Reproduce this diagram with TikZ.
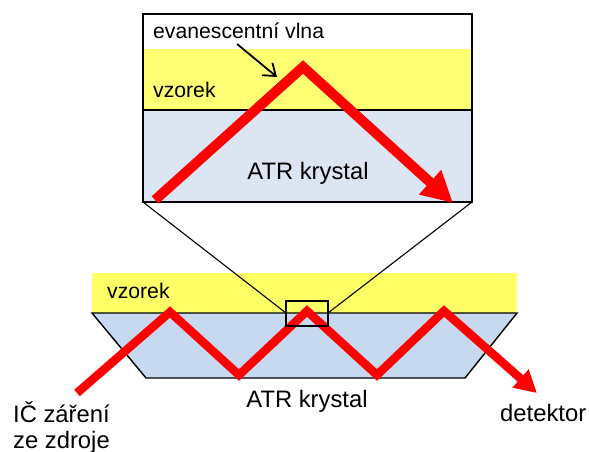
\documentclass[tikz,border=0pt]{standalone}
\usepackage{fontspec}
\setmainfont{Liberation Sans}
\usetikzlibrary{arrows.meta}
\definecolor{ylwtop}{HTML}{FFFF73}
\definecolor{ylwbot}{HTML}{FFFF66}
\definecolor{bluetop}{HTML}{DCE6F2}
\definecolor{bluebot}{HTML}{C6D9F1}
\definecolor{beamred}{HTML}{FF0000}
\begin{document}
\begin{tikzpicture}[x=1pt,y=-1pt,
  frame/.style={draw=black,line width=1.4pt},
  thinline/.style={draw=black,line width=1.1pt},
  beamtop/.style={draw=beamred,line width=10pt,line join=miter,-{Triangle[length=31pt,width=31pt]}},
  beambot/.style={draw=beamred,line width=8.5pt,line join=miter,-{Triangle[length=22pt,width=23pt]}},
  pointer/.style={draw=black,line width=1.8pt,-{Straight Barb[length=11pt,width=16pt,line width=1.8pt]}},
  bigtxt/.style={inner sep=0pt,font=\fontsize{23.8}{28}\selectfont},
  smalltxt/.style={inner sep=0pt,font=\fontsize{21.2}{25}\selectfont}
]
\useasboundingbox (0,0) rectangle (589,452);
% ---- magnified view ----
\coordinate (TL) at (143,14);
\coordinate (TR) at (472,14);
\coordinate (BL) at (143,202);
\coordinate (BR) at (472,202);
\coordinate (ML) at (143,110);
\coordinate (MR) at (472,110);
\fill[white] (143,14) rectangle (472,49);
\fill[ylwtop] (143,49) rectangle (472,110);
\fill[bluetop] (143,110) rectangle (472,202);
\draw[frame] (TL) -- (TR) -- (BR) -- (BL) -- cycle;
\draw[frame] (ML) -- (MR);
% ---- lower crystal ----
\fill[ylwbot] (92,273) rectangle (517,313);
\coordinate (K1) at (92,313);
\coordinate (K2) at (517,313);
\coordinate (K3) at (465,378);
\coordinate (K4) at (146,378);
\draw[frame,fill=bluebot] (K1) -- (K2) -- (K3) -- (K4) -- cycle;
% small zoom box
\coordinate (ZL) at (286,313);
\coordinate (ZR) at (328,313);
\draw[thinline] (BL) -- (ZL);
\draw[thinline] (BR) -- (ZR);
% ---- beams ----
\coordinate (U0) at (155,200);
\coordinate (U1) at (303,67);
\coordinate (U2) at (453,203);
\draw[beamtop] (U0) -- (U1) -- (U2);
\coordinate (L0) at (77,393);
\coordinate (L1) at (170,312);
\coordinate (L2) at (239,375);
\coordinate (L3) at (307,311);
\coordinate (L4) at (377,375);
\coordinate (L5) at (444,311);
\coordinate (L6) at (537,393);
\draw[beambot] (L0) -- (L1) -- (L2) -- (L3) -- (L4) -- (L5) -- (L6);
\draw[frame] (286,301) rectangle (328,326);
% ---- pointer ----
\coordinate (P0) at (237,44);
\coordinate (P1) at (277,77);
\draw[pointer] (P0) -- (P1);
% ---- texts ----
\node[smalltxt,anchor=base west] (evan) at (153,39) {evanescentní vlna};
\node[smalltxt,anchor=base west] (vz1) at (153,97) {vzorek};
\node[bigtxt,anchor=base] (atr1) at (308,179) {ATR krystal};
\node[smalltxt,anchor=base west] (vz2) at (107,298) {vzorek};
\node[bigtxt,anchor=base] (atr2) at (307,407) {ATR krystal};
\node[bigtxt,anchor=base west] (ir1) at (13,422) {IČ záření};
\node[bigtxt,anchor=base west] (ir2) at (13,448) {ze zdroje};
\node[bigtxt,anchor=base west] (det) at (500,421) {detektor};
\end{tikzpicture}
\end{document}
